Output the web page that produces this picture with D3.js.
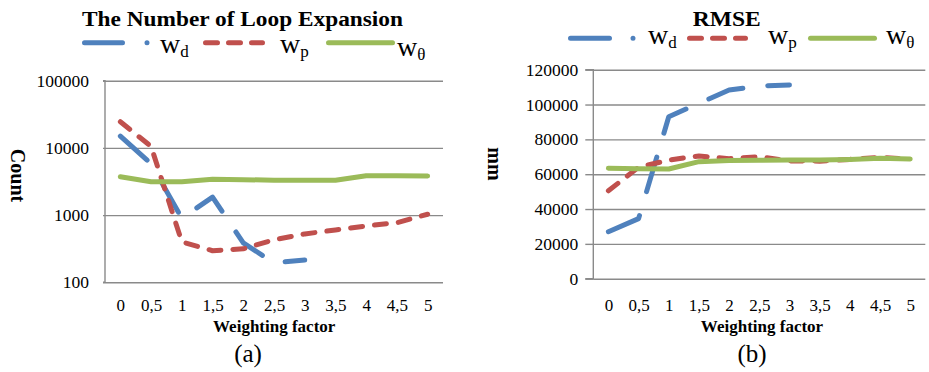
<!DOCTYPE html>
<html>
<head>
<meta charset="utf-8">
<script src="https://cdn.jsdelivr.net/npm/d3@7/dist/d3.min.js"></script>
<style>
  html, body { margin: 0; padding: 0; background: #fff; }
  svg { display: block; font-family: "Liberation Serif", "Times New Roman", serif; }
</style>
</head>
<body>
<svg id="fig" width="929" height="372"></svg>
<script>
// Weighting factor categories shared by both panels
const factors = ["0", "0,5", "1", "1,5", "2", "2,5", "3", "3,5", "4", "4,5", "5"];

// (a) number of loop expansions (log scale)
const loopWd = [15000, 5800, 900, 1850, 385, 195, 215, null, null, null, null];
const loopWp = [24500, 10500, 400, 295, 315, 430, 525, 600, 690, 770, 1030];
const loopWt = [3730, 3140, 3140, 3410, 3370, 3300, 3300, 3300, 3860, 3860, 3810];
const loopTicks = [100, 1000, 10000, 100000];

// (b) RMSE in mm
const rmseWd = [27000, 34500, 93000, 100700, 108300, 110600, 111200, null, null, null, null];
const rmseWp = [50500, 64000, 68100, 70500, 68900, 70000, 67600, 67500, 68500, 69700, 68700];
const rmseWt = [63400, 63200, 63000, 67200, 67800, 68000, 68200, 68200, 68500, 69100, 68700];
const rmseTicks = [0, 20000, 40000, 60000, 80000, 100000, 120000];

const BLUE = "#4f81bd", RED = "#c0504d", GREEN = "#9bbb59", GRID = "#8a8a8a";
const LW = 5;
const styles = {
  wd: { color: BLUE, dash: "36,25" },
  wp: { color: RED, dash: "12,12" },
  wt: { color: GREEN, dash: null }
};

const svg = d3.select("#fig");

function panel(cfg) {
  const g = svg.append("g");
  const x = d3.scalePoint().domain(factors).range([cfg.left, cfg.right]).padding(0.5);
  const y = cfg.y;

  // horizontal gridlines
  g.append("g")
    .attr("transform", `translate(${cfg.left},0)`)
    .call(d3.axisLeft(y).tickValues(cfg.ticks).tickSize(-(cfg.right - cfg.left)).tickFormat(""))
    .call(a => a.select(".domain").remove())
    .call(a => a.selectAll("line").attr("stroke", GRID).attr("stroke-width", 1.4));

  // y axis line, tick marks and labels
  g.append("g")
    .attr("transform", `translate(${cfg.left},0)`)
    .call(d3.axisLeft(y).tickValues(cfg.ticks).tickSize(cfg.tickLen).tickPadding(cfg.pad)
      .tickFormat(d3.format("d")))
    .call(a => a.select(".domain").attr("stroke", GRID).attr("stroke-width", 1.4)
      .attr("d", `M${-cfg.tickLen},${y(cfg.ticks[0])}H0V${y(cfg.ticks[cfg.ticks.length - 1])}H${-cfg.tickLen}`))
    .call(a => a.selectAll(".tick line").attr("stroke", GRID).attr("stroke-width", 1.4))
    .call(a => a.selectAll("text").attr("font-family", "Liberation Serif").attr("font-size", 17.5).attr("fill", "#000"));

  // x axis labels
  g.append("g")
    .attr("transform", `translate(0,${cfg.xLabelY})`)
    .call(d3.axisBottom(x).tickSize(0).tickPadding(0))
    .call(a => a.select(".domain").remove())
    .call(a => a.selectAll("text").attr("font-family", "Liberation Serif").attr("font-size", 17)
      .attr("fill", "#000").attr("dy", 0).attr("y", 0));

  // series lines
  const line = d3.line()
    .defined(d => d.v != null)
    .x(d => x(d.f))
    .y(d => y(d.v));
  cfg.series.forEach(s => {
    const st = styles[s.key];
    g.append("path")
      .datum(s.values.map((v, i) => ({ f: factors[i], v })))
      .attr("d", line)
      .attr("fill", "none")
      .attr("stroke", st.color)
      .attr("stroke-width", LW)
      .attr("stroke-linecap", "round")
      .attr("stroke-linejoin", "round")
      .attr("stroke-dasharray", st.dash);
  });

  // title
  g.append("text")
    .attr("x", cfg.titleX).attr("y", 25.5)
    .attr("text-anchor", "middle")
    .attr("font-weight", "bold").attr("font-size", 20)
    .attr("textLength", cfg.titleLen).attr("lengthAdjust", "spacingAndGlyphs")
    .text(cfg.title);

  // legend
  const ly = cfg.legendY;
  const L = cfg.legend;
  g.append("line").attr("x1", L.wd[0]).attr("x2", L.wd[1] + 30).attr("y1", ly).attr("y2", ly)
    .attr("stroke", BLUE).attr("stroke-width", LW).attr("stroke-linecap", "round")
    .attr("stroke-dasharray", `${L.wd[2]},${L.wd[3]},0.01,200`);
  g.append("line").attr("x1", L.wp[0]).attr("x2", L.wp[1]).attr("y1", ly).attr("y2", ly)
    .attr("stroke", RED).attr("stroke-width", LW).attr("stroke-linecap", "round")
    .attr("stroke-dasharray", "12,11");
  g.append("line").attr("x1", L.wt[0]).attr("x2", L.wt[1]).attr("y1", ly).attr("y2", ly)
    .attr("stroke", GREEN).attr("stroke-width", LW).attr("stroke-linecap", "round");

  const labels = [
    { x: L.wdText[0], y: L.wdText[1], sub: "d" },
    { x: L.wpText[0], y: L.wpText[1], sub: "p" },
    { x: L.wtText[0], y: L.wtText[1], sub: "θ" }
  ];
  labels.forEach(lb => {
    const t = g.append("text").attr("x", lb.x).attr("y", lb.y).attr("font-size", 28);
    t.append("tspan").text("w");
    t.append("tspan").attr("font-size", 17).attr("dy", 4).text(lb.sub);
  });

  // axis titles
  g.append("text")
    .attr("transform", `translate(${cfg.yTitle[0]},${cfg.yTitle[1]}) rotate(90)`)
    .attr("text-anchor", "middle").attr("font-weight", "bold").attr("font-size", 20)
    .text(cfg.yLabel);
  g.append("text")
    .attr("x", cfg.xTitleX).attr("y", 331.5)
    .attr("text-anchor", "middle").attr("font-weight", "bold").attr("font-size", 17)
    .text("Weighting factor");
  g.append("text")
    .attr("x", cfg.capX).attr("y", 362)
    .attr("text-anchor", "middle").attr("font-size", 25)
    .text(cfg.caption);
}

panel({
  left: 105, right: 443,
  y: d3.scaleLog().domain([100, 100000]).range([282.3, 80.7]),
  ticks: loopTicks, tickLen: 2, pad: 14,
  xLabelY: 311,
  series: [
    { key: "wd", values: loopWd },
    { key: "wp", values: loopWp },
    { key: "wt", values: loopWt }
  ],
  title: "The Number of Loop Expansion", titleX: 242.5, titleLen: 321,
  legendY: 42.7,
  legend: { wd: [84.5, 147, 38, 24.5], wp: [205.5, 262.5], wt: [328.5, 392.5],
            wdText: [160, 53], wpText: [280, 53], wtText: [397, 55.5] },
  yTitle: [11, 175.5], yLabel: "Count",
  xTitleX: 274.2, capX: 248, caption: "(a)"
});

panel({
  left: 593.3, right: 925.3,
  y: d3.scaleLinear().domain([0, 120000]).range([278.7, 69.7]),
  ticks: rmseTicks, tickLen: 8, pad: 7,
  xLabelY: 311,
  series: [
    { key: "wd", values: rmseWd },
    { key: "wp", values: rmseWp },
    { key: "wt", values: rmseWt }
  ],
  title: "RMSE", titleX: 726.7, titleLen: 68,
  legendY: 38.3,
  legend: { wd: [570.5, 633, 39, 23.5], wp: [689.5, 745.5], wt: [810.5, 874.5],
            wdText: [648, 43.5], wpText: [768, 43.5], wtText: [886, 43.5] },
  yTitle: [488, 164], yLabel: "mm",
  xTitleX: 762, capX: 752, caption: "(b)"
});
</script>
</body>
</html>
